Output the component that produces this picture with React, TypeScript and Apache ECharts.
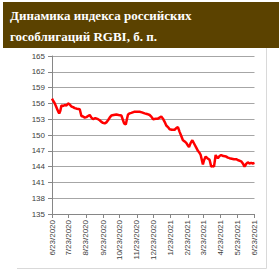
import React, { useEffect, useRef } from "react";
import * as echarts from "echarts";

const titleLines = ["Динамика индекса российских", "гособлигаций RGBI, б. п."];

const tickLabels = [
  "6/23/2020", "7/23/2020", "8/23/2020", "9/23/2020", "10/23/2020", "11/23/2020",
  "12/23/2020", "1/23/2021", "2/23/2021", "3/23/2021", "4/23/2021", "5/23/2021", "6/23/2021",
];

const dates = [
  "2020-06-23", "2020-06-25", "2020-06-27", "2020-06-30", "2020-07-02", "2020-07-04", "2020-07-06",
  "2020-07-08", "2020-07-10", "2020-07-13", "2020-07-16", "2020-07-19", "2020-07-22", "2020-07-25",
  "2020-07-28", "2020-07-31", "2020-08-03", "2020-08-07", "2020-08-12", "2020-08-15", "2020-08-18",
  "2020-08-21", "2020-08-24", "2020-08-27", "2020-08-30", "2020-09-02", "2020-09-05", "2020-09-09",
  "2020-09-14", "2020-09-17", "2020-09-20", "2020-09-23", "2020-09-26", "2020-09-29", "2020-10-02",
  "2020-10-05", "2020-10-08", "2020-10-12", "2020-10-17", "2020-10-21", "2020-10-26", "2020-10-29",
  "2020-10-31", "2020-11-03", "2020-11-05", "2020-11-07", "2020-11-10", "2020-11-13", "2020-11-18",
  "2020-11-22", "2020-11-28", "2020-12-02", "2020-12-07", "2020-12-11", "2020-12-16", "2020-12-19",
  "2020-12-22", "2020-12-27", "2020-12-31", "2021-01-03", "2021-01-06", "2021-01-09", "2021-01-12",
  "2021-01-15", "2021-01-18", "2021-01-21", "2021-01-25", "2021-01-30", "2021-02-02", "2021-02-05",
  "2021-02-08", "2021-02-11", "2021-02-14", "2021-02-17", "2021-02-20", "2021-02-23", "2021-02-25",
  "2021-02-28", "2021-03-03", "2021-03-07", "2021-03-10", "2021-03-13", "2021-03-16", "2021-03-18",
  "2021-03-20", "2021-03-22", "2021-03-24", "2021-03-27", "2021-03-30", "2021-04-03", "2021-04-06",
  "2021-04-09", "2021-04-11", "2021-04-14", "2021-04-16", "2021-04-18", "2021-04-21", "2021-04-24",
  "2021-04-28", "2021-05-03", "2021-05-06", "2021-05-09", "2021-05-13", "2021-05-17", "2021-05-21",
  "2021-05-25", "2021-05-30", "2021-06-02", "2021-06-05", "2021-06-08", "2021-06-11", "2021-06-14",
  "2021-06-17", "2021-06-20", "2021-06-23",
];

const values = [
  156.9, 156.5, 156.2, 155.5, 155.0, 154.5, 154.1,
  154.6, 155.6, 155.5, 155.7, 155.6, 156.0, 155.8,
  155.4, 155.3, 155.1, 155.0, 154.9, 153.6, 153.5,
  153.3, 153.4, 153.6, 153.8, 153.3, 153.0, 153.2,
  153.0, 152.8, 152.5, 152.3, 152.2, 152.4, 152.8,
  153.3, 153.7, 153.8, 153.9, 153.8, 153.7, 152.8,
  152.2, 152.0, 153.0, 153.9, 154.1, 154.2, 154.4,
  154.4, 154.4, 154.3, 154.1, 154.0, 153.8, 153.5,
  153.0, 153.1, 153.1, 153.3, 153.5, 153.1, 152.5,
  151.8, 151.5, 151.1, 151.0, 151.0, 151.3, 151.5,
  150.6, 149.8, 149.0, 148.8, 148.5, 148.0, 147.7,
  148.5, 149.0, 148.2, 147.6, 147.0, 146.6, 146.2,
  145.3, 144.4, 145.2, 145.9, 145.6, 145.3, 144.0,
  144.1, 144.0, 146.2, 145.8, 145.6, 146.0, 146.2,
  146.0, 145.9, 145.7, 145.6, 145.5, 145.4, 145.4,
  145.2, 145.0, 144.6, 144.0, 144.5, 144.8, 144.6,
  144.7, 144.6, 144.7,
];

const DAY = 86400000;
const t0 = Date.UTC(2020, 5, 23);
const parseMdy = (s: string) => {
  const [m, d, y] = s.split("/").map(Number);
  return Math.round((Date.UTC(y, m - 1, d) - t0) / DAY);
};
const parseIso = (s: string) => {
  const [y, m, d] = s.split("-").map(Number);
  return Math.round((Date.UTC(y, m - 1, d) - t0) / DAY);
};

export default function App() {
  const ref = useRef<HTMLDivElement>(null);
  useEffect(() => {
    if (!ref.current) return;
    const chart = echarts.init(ref.current, undefined, { renderer: "svg" });
    const tickDays = tickLabels.map(parseMdy);
    const labelByDay: Record<number, string> = {};
    tickLabels.forEach((l, i) => (labelByDay[tickDays[i]] = l));
    const seriesData = dates.map((d, i) => [parseIso(d), values[i]]);
    const font = "'Liberation Sans', Arial, sans-serif";
    chart.setOption({
      animation: false,
      backgroundColor: "#ffffff",
      grid: { left: 52, right: 24.5, top: 56, bottom: 58, containLabel: false },
      xAxis: {
        type: "value",
        min: 0,
        max: tickDays[tickDays.length - 1],
        axisLine: { show: true, lineStyle: { color: "#868686", width: 1 } },
        axisTick: {
          show: true,
          length: 4,
          customValues: tickDays,
          lineStyle: { color: "#868686" },
        },
        axisLabel: {
          customValues: tickDays,
          rotate: 90,
          margin: 6,
          fontSize: 8,
          fontFamily: font,
          color: "#404040",
          formatter: (v: number) => labelByDay[Math.round(v)] ?? "",
        },
        splitLine: { show: false },
      },
      yAxis: {
        type: "value",
        min: 135,
        max: 165,
        interval: 3,
        axisLine: { show: true, lineStyle: { color: "#868686", width: 1 } },
        axisTick: { show: true, length: 4, lineStyle: { color: "#868686" } },
        axisLabel: {
          margin: 7,
          fontSize: 8,
          fontFamily: font,
          color: "#404040",
        },
        splitLine: { show: true, lineStyle: { color: "#a6a6a6", width: 1 } },
      },
      graphic: [
        {
          type: "rect",
          shape: { x: 3, y: 2, width: 276, height: 46 },
          style: { fill: "#5b4200" },
          silent: true,
        },
        {
          type: "text",
          x: 10,
          y: 15,
          style: {
            text: titleLines[0],
            fill: "#ffffff",
            font: "bold 13px 'Liberation Serif', 'DejaVu Serif', serif",
            verticalAlign: "middle",
          },
        },
        {
          type: "text",
          x: 10,
          y: 36,
          style: {
            text: titleLines[1],
            fill: "#ffffff",
            font: "bold 13px 'Liberation Serif', 'DejaVu Serif', serif",
            verticalAlign: "middle",
          },
        },
        {
          type: "line",
          shape: { x1: 266.5, y1: 48, x2: 266.5, y2: 268.5 },
          style: { stroke: "#d9d9d9", lineWidth: 1 },
          silent: true,
        },
        {
          type: "line",
          shape: { x1: 17, y1: 268.5, x2: 266.5, y2: 268.5 },
          style: { stroke: "#d9d9d9", lineWidth: 1 },
          silent: true,
        },
      ],
      series: [
        {
          type: "line",
          data: seriesData,
          showSymbol: false,
          symbol: "none",
          lineStyle: { color: "#ff0000", width: 2.5 },
        },
      ],
    });
    return () => chart.dispose();
  }, []);
  return (
    <div
      ref={ref}
      style={{ position: "absolute", left: 0, top: 0, width: 279, height: 272 }}
    />
  );
}
